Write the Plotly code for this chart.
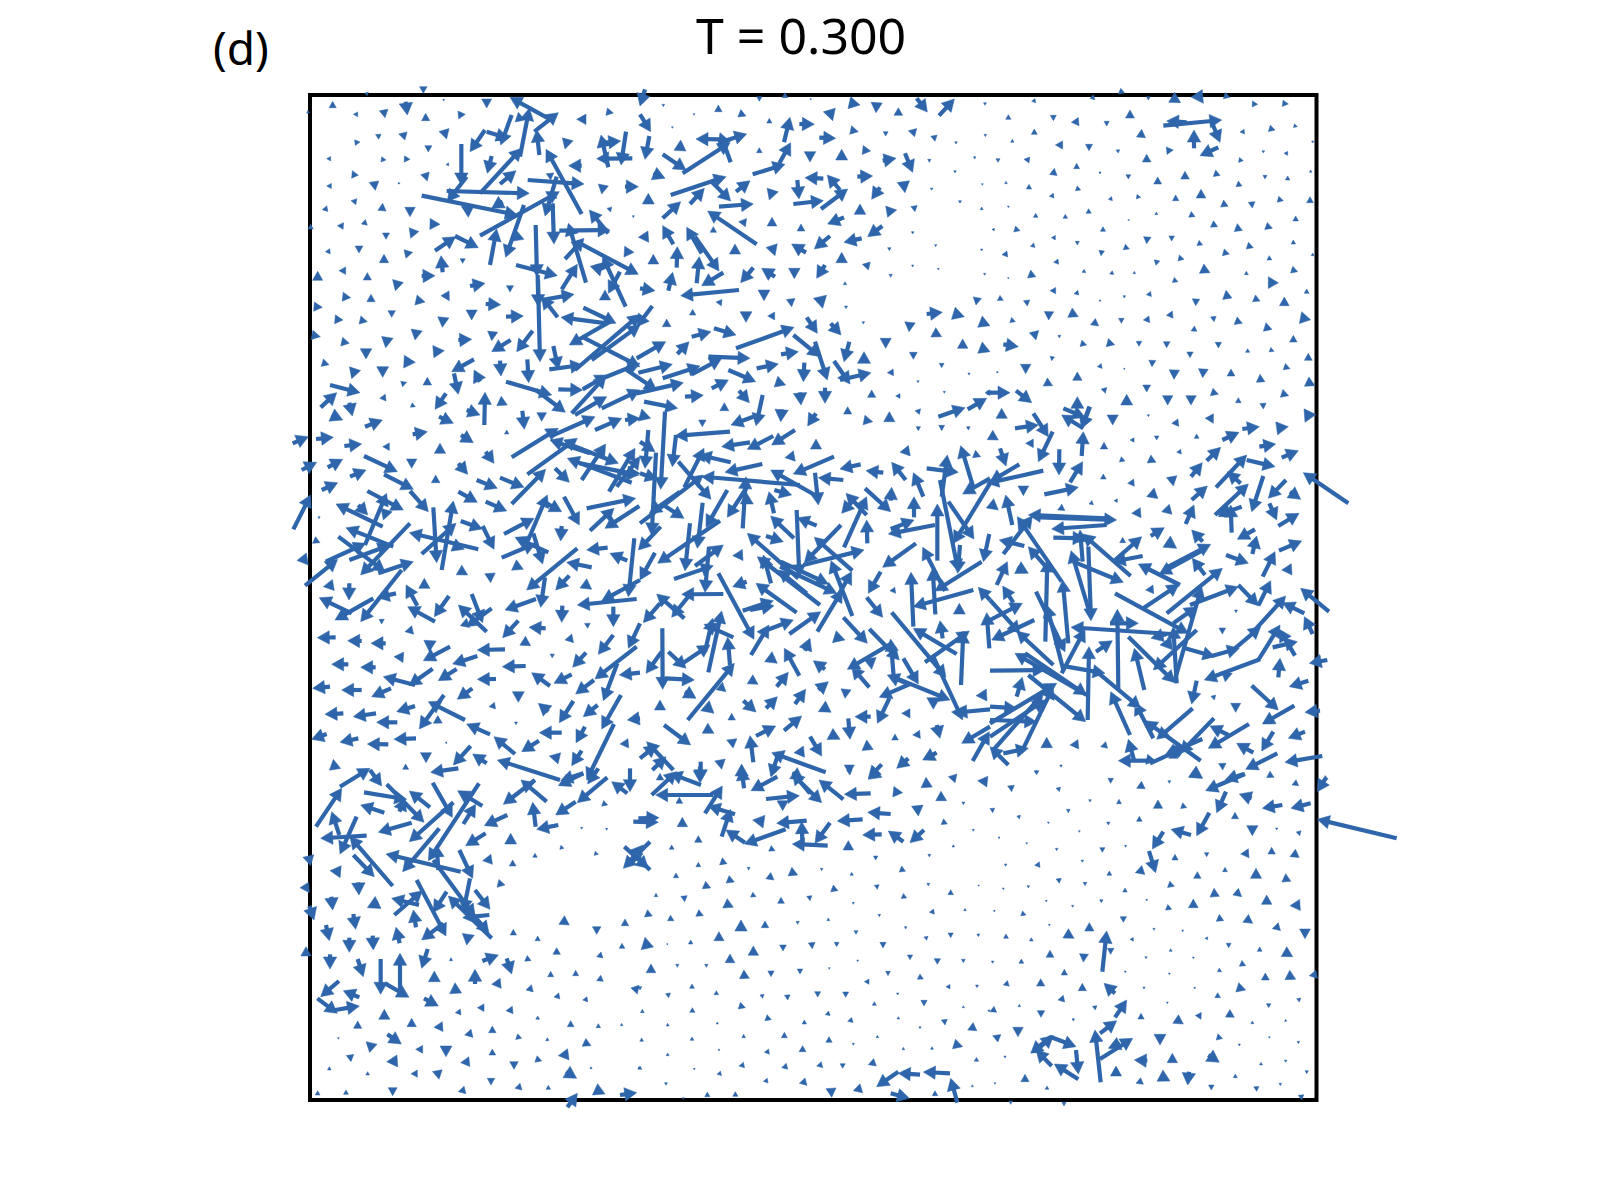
import numpy as np
import plotly.graph_objects as go

TITLE = "T = 0.300"
PANEL = "(d)"
top_left_origin = (290, 80)
top_left = [
(400,40,400,20),(128,64,128,83),(235,37,228,43),(50,100,56,95),(352,105,347,65),(190,103,203,103),(285,113,281,90),(407,100,407,122),(526,103,505,105),(461,63,461,58),(590,84,590,57),
(660,52,775,115),(718,85,690,230),(695,205,570,340),(740,150,748,225),(805,98,733,155),(632,195,665,105),(685,97,690,123),(540,215,585,150),(655,175,590,155),(860,118,888,118),(970,99,950,95),
(326,162,348,168),(266,178,265,163),(470,177,462,150),(210,186,195,188),(415,216,415,197),(110,236,122,236),(288,240,274,238),(360,238,343,237),(468,254,476,253),(187,272,195,290),(412,303,405,280),(110,318,124,318),(256,331,252,305),(330,311,325,309),(183,362,199,365),(97,389,112,386),(278,370,276,392),(360,410,360,382),(142,437,160,438),(214,432,229,427),(62,433,62,447),(450,433,420,432),(288,478,288,459),(362,475,372,449),(106,515,120,514),(207,519,207,498),(368,517,345,522),(282,523,282,548),(518,550,518,536),(147,572,167,572),(83,574,83,601),(232,578,232,600),(316,632,324,603),(182,653,158,650),(243,643,243,665),(660,636,660,617),(97,682,72,680),(405,666,378,660),(305,712,305,692),(159,720,135,718),(232,725,210,720),(91,770,66,765),(178,790,155,785),(375,780,380,750),(287,803,292,772),(228,837,228,806),(117,854,97,848),(463,812,430,815),(185,896,195,866),(376,847,342,845),(278,892,278,860),(350,907,335,912),(412,892,412,915),(269,955,287,953),(376,980,364,975),(158,1020,125,1005),(187,1008,178,968),
(210,938,120,915),(140,938,92,982),(277,1020,225,1040),(453,527,458,577),(435,587,395,588),(497,470,435,512),(565,503,495,468),(620,447,600,555),(514,315,514,192),(718,340,470,333),(472,365,530,290),(682,405,395,347),(808,335,570,467),(678,272,630,312),(592,280,605,228),(825,207,833,178),(836,257,875,257),(933,165,955,262),(992,183,945,188),(993,255,1008,155),(920,236,1027,235),(882,312,713,300),(768,208,875,402),(765,408,800,290),(782,300,780,280),(790,335,790,355),(792,492,788,370),(935,342,940,315),(1045,320,1005,320),(962,396,958,383),(1030,413,1030,407),(605,385,638,365),(535,412,533,378),(647,532,702,375),(702,478,675,468),
(741,590,737,435),(745,680,743,585),(750,845,744,600),(802,587,678,555),(862,553,815,628),(852,643,755,660),(755,650,803,712),(960,450,808,452),(898,390,955,460),(835,430,888,608),(1045,583,860,485),(882,475,825,537),(1032,517,1003,515),(938,530,1007,680),(955,640,990,575),(930,588,920,553),(945,630,945,660),(978,730,880,683),(813,712,950,730),(838,795,960,725),(1050,860,875,770),(1050,703,855,870),(1050,735,905,840),(878,855,778,868),(805,868,790,798),(605,815,662,780),(680,815,728,752),(605,782,608,755),(545,720,545,690),(700,708,648,710),(632,674,587,672),(478,662,465,640),(585,610,540,618),(457,742,460,712),(545,778,505,780),(485,875,552,838),(633,888,630,842),(716,908,712,838),(552,870,570,905),(505,943,492,880),(785,945,648,905),(826,997,738,930),(435,988,468,940),(585,937,583,1035),(652,975,627,963),(570,1005,530,990),(490,1030,447,1010),(703,1048,697,992),(755,1024,755,998),(878,930,805,928),(952,885,878,928),(948,887,845,1000),(950,950,855,1005),(1050,930,935,985),(915,1010,780,1070),(995,1015,915,1050),(1050,1015,1005,1020),(1050,850,925,900)]

top_middle_origin = (640, 80)
top_middle = [
(0,78,15,28),(32,155,0,103),(15,238,28,168),(138,270,68,223),(270,188,128,280),(240,158,272,247),(168,177,240,178),(320,162,235,188),(122,180,120,212),(235,75,235,95),(70,80,70,73),(162,106,162,101),(97,145,97,140),(318,108,298,100),(388,115,388,129),(358,64,358,50),(435,38,435,53),(512,60,512,56),(450,112,432,187),(523,133,478,132),(587,175,538,173),(578,122,568,90),(660,75,628,68),(708,98,710,68),(775,83,775,106),(862,96,830,55),(943,57,897,107),(1035,76,1035,68),(655,155,632,150),(737,168,737,155),(805,152,827,158),(885,184,882,167),(948,192,948,185),(1036,170,1036,163),(1004,237,1004,230),(358,203,358,218),(510,246,510,215),(605,208,605,240),(692,213,668,210),(768,235,728,242),(818,277,795,220),(868,247,868,238),(945,279,945,272),(1027,316,1027,311),(435,253,338,283),(452,188,418,250),(75,295,40,280),(258,290,92,345),(272,363,215,305),(25,340,25,372),(330,302,288,335),(193,325,150,372),(122,365,68,415),(340,372,237,380),(388,360,398,330),(203,393,350,493),(477,357,472,300),(495,293,550,296),(550,362,460,372),(562,285,600,330),(623,327,543,387),(698,288,652,290),(795,338,790,305),(695,358,720,322),(660,372,660,403),(770,390,740,395),(825,395,822,378),(875,331,875,324),(960,370,960,362),(1025,381,1025,389),
(396,412,396,438),(296,425,318,428),(483,432,483,453),(220,440,220,457),(563,432,612,412),(683,470,727,438),(523,507,570,468),(612,487,665,475),(-5,472,25,470),(68,437,100,493),(140,442,185,520),(237,573,165,470),(112,500,110,563),(40,523,40,552),(285,492,285,522),(405,527,395,497),(455,492,498,518),(605,517,605,548),(667,553,688,558),(748,512,748,503),(818,462,818,455),(887,500,887,494),(1025,513,1025,507),(178,530,170,610),(98,577,85,632),(185,617,250,578),(302,608,340,563),(365,565,405,590),(463,596,463,565),(530,595,555,555),(818,561,818,555),(895,570,895,565),(1034,586,1034,580),(752,592,752,583),(615,605,615,614),(45,632,0,625),(122,647,297,630),(372,662,372,630),(228,666,245,668),(455,680,452,657),(548,685,540,650),(-10,740,37,678),(158,688,158,705),(318,727,318,695),(383,708,404,708),(80,717,80,740),(532,760,500,712),(603,765,572,730),(618,686,618,678),(670,732,670,725),(1008,675,1012,653),(907,697,860,702),(973,710,940,700),(1050,737,1020,725),(807,755,810,727),(905,770,880,757),(737,805,737,775),(213,755,155,770),(288,765,222,745),(462,742,288,805),(77,785,-10,835),(147,785,112,822),(540,830,460,765),(562,900,525,785),(612,845,628,785),(968,777,968,805),(1050,815,1020,803),(820,838,820,817),(672,815,672,850),(330,835,205,830),(475,815,423,823),(97,853,-5,878),(180,858,68,895),(245,835,155,883),(415,852,350,865),(347,905,265,870),(490,905,493,848),(630,912,582,843),(693,878,600,900),(742,878,760,877),(905,863,905,850),(987,885,987,879),(834,908,834,902),(130,908,-10,940),(50,930,-40,870),(265,900,215,925),(190,946,135,950),(437,915,408,905),(555,970,555,923),(328,968,297,932),(483,975,480,937),(695,930,695,952),(767,948,780,948),(913,940,913,934),(1035,938,1050,938),(975,983,895,1010),(1040,955,983,988),(113,985,12,965),(253,968,253,992),(348,1037,368,945),(273,1035,340,1010),(422,1025,425,988),(503,1038,528,1000),(623,980,623,1002),(748,995,748,1025),(825,992,840,995),(698,1025,672,1020),(187,1040,187,1020),(32,1015,0,1005),(905,1052,905,1036),(835,1052,835,1040),(985,1050,985,1040)]

top_right_origin = (990, 80)
top_right = [
(125,64,136,62),(315,59,305,50),(385,42,398,32),(475,60,475,50),(572,68,545,52),(640,70,620,40),(720,52,703,47),(803,73,787,72),(895,72,878,70),(55,104,55,118),(190,122,190,106),(244,127,266,125),(350,138,350,124),(420,90,420,114),(695,120,520,137),(530,123,590,127),(690,187,668,133),(612,150,612,205),(630,227,685,202),(750,156,763,155),(855,150,838,145),(922,140,912,137),(133,147,133,163),(455,148,453,172),(67,178,67,187),(196,195,218,195),(297,212,297,193),(378,210,387,214),(550,210,530,212),(968,189,968,183),(24,247,24,236),(102,238,118,240),(470,223,470,246),(760,242,747,240),(820,219,820,212),(882,220,893,220),(193,265,190,285),(260,250,260,266),(330,282,330,276),(415,297,415,284),(503,291,503,312),(585,274,585,297),(677,270,680,288),(825,297,825,286),(893,288,893,300),(962,270,962,277),(48,304,48,311),(117,313,117,327),(272,330,259,325),(745,303,747,319),(178,349,191,347),(355,358,366,356),(452,352,440,350),(557,345,557,362),(633,328,633,354),(701,360,703,380),(787,384,785,366),(880,362,864,358),(960,350,960,368),(55,383,55,378),(137,400,137,412),(226,403,226,415),(296,386,296,400),(416,423,416,419),(499,396,499,404),(615,410,600,403),(917,408,917,423),(6,448,13,449),(90,452,74,447),(339,440,339,454),(683,440,666,432),(742,431,745,453),(847,445,828,438),(184,473,196,473),(470,491,472,471),(545,483,545,468),(121,499,133,496),(262,495,262,484),(638,495,624,489),(910,480,910,492),(36,524,52,522),(333,527,335,512),(418,507,403,501),(718,522,700,517),(790,503,772,497),(838,527,838,540),(968,519,968,527),(191,547,205,545),(498,556,501,541),(582,538,566,534),(55,597,55,593),(122,570,125,592),(276,577,285,573),(359,582,369,578),(433,574,433,581),(660,578,635,566),(775,584,766,579),(835,590,850,617),(923,575,905,569),(564,605,550,600),(180,632,197,632),(252,641,265,638),(403,654,403,647),(469,644,483,642),(950,627,950,640),(708,631,712,656),(40,661,26,654),(112,678,110,661),(330,665,330,660),(617,677,618,657),(810,663,792,655),(883,651,883,677),(176,720,177,695),(265,710,240,698),(326,738,309,725),(394,730,394,715),(460,720,478,718),(529,706,548,704),(672,725,670,710),(757,730,737,722),(828,728,833,751),(935,695,945,725),(76,725,62,720),(138,780,132,755),(85,800,40,793),(208,774,208,766),(290,795,273,790),(374,794,352,788),(447,799,447,784),(530,803,530,785),(685,804,685,787),(603,753,617,746),(910,766,910,786),(600,833,600,816),(773,806,773,817),(852,814,840,809),(955,820,955,841),(185,842,187,830),(107,881,107,853),(486,860,487,841),(322,860,335,858),(403,869,403,865),(552,898,553,870),(638,893,640,867),(723,867,723,888),(262,876,262,901),(810,883,812,906),(900,866,883,860),(22,873,22,878),(188,917,166,906),(470,936,470,915),(346,940,342,925),(975,917,950,905),(60,938,-10,938),(125,968,78,932),(35,985,35,1015),(533,975,533,947),(603,975,603,947),(685,943,665,936),(745,953,745,968),(820,987,819,970),(896,947,875,940),(410,943,410,975),(262,950,262,985),(368,1035,368,1005),(285,1012,220,985),(275,1045,298,980),(215,1005,280,1045),(475,1010,475,1004),(545,1030,565,1028),(670,1030,658,1008),(945,1027,960,995),(808,1040,757,1047),(895,1040,860,1045),(175,1070,130,1000),(145,1035,75,1045)]

middle_left_origin = (290, 430)
middle_left = [
(55,20,8,40),(130,22,78,27),(215,42,163,48),(278,50,298,50),(450,40,450,70),(412,5,368,13),(550,38,513,15),(650,0,650,12),(80,97,35,120),(158,88,113,112),(228,120,180,140),(143,158,95,180),(365,115,365,87),(322,125,222,78),(370,178,282,133),(415,245,360,183),(437,135,437,158),(612,100,587,65),(533,133,505,100),(622,175,560,150),(702,172,630,143),(562,217,505,185),(650,243,587,215),(838,157,795,115),(805,-5,665,82),(862,25,712,133),(767,118,665,222),(780,30,900,70),(985,100,830,40),(832,85,1025,158),(947,42,875,150),(1035,55,957,185),(1050,80,980,170),(1050,130,985,130),(1048,135,870,100),(868,285,822,200),(1037,205,890,235),(972,235,900,302),(945,295,1048,228),(732,265,642,312),(737,340,635,383),(772,195,708,345),(815,245,770,220),(758,402,730,310),(675,322,775,367),(812,333,815,288),(890,360,953,353),(960,370,1012,392),(830,397,905,412),(710,480,862,355),(797,480,838,437),(752,532,765,442),(700,418,672,405),(533,435,507,420),(602,458,600,430),(403,445,403,475),(100,470,130,465),(177,510,178,460),(262,503,318,490),(348,465,382,527),(433,560,477,498),(353,530,435,575),(88,503,185,550),(135,570,250,505),(212,575,335,420),(370,395,265,430),(143,388,45,467),(227,340,107,395),(300,345,178,390),(285,425,145,320),(168,293,310,350),(212,435,360,280),(138,222,278,290),(290,190,225,345),(340,240,232,183),(233,255,205,225),(280,270,290,240),(358,308,565,358),(440,398,430,232),(490,213,455,420),(498,280,395,372),(523,358,490,345),(90,338,72,330),(87,266,87,260),(55,405,35,380),(62,195,10,298),(577,297,512,273),(612,358,578,288),(505,525,590,605),(578,578,545,492),(530,590,605,535),(530,565,525,590),(645,540,738,507),(638,623,685,572),(717,592,767,595),(815,577,817,527),(893,595,892,580),(905,478,880,460),(862,525,1040,507),(935,513,1050,450),(1015,500,1033,325),(970,590,970,530),(1015,655,1050,580),(925,673,970,615),(915,747,1040,650),(940,812,982,700),(935,897,993,795),(890,1050,972,882),(857,792,912,750),(988,735,1050,728),(1012,870,1050,865),(848,712,888,668),(825,630,848,625),(780,672,790,678),(722,647,698,632),(562,660,645,658),(488,702,562,678),(637,710,707,708),(562,748,618,747),(725,728,780,768),(792,760,845,733),(502,808,547,775),(685,817,685,785),(445,752,500,717),(400,692,480,650),(418,665,420,632),(82,623,137,622),(173,632,215,633),(243,640,287,640),(345,605,368,600),(275,582,275,568),(312,680,340,682),(125,703,175,703),(212,712,257,712),(357,767,428,716),(280,740,375,765),(245,800,303,775),(68,775,120,770),(155,780,215,780),(320,845,375,828),(105,853,160,850),(190,860,258,850),(260,877,322,877),(388,897,462,795),(415,815,525,870),(430,880,450,868),(597,830,615,827),(745,820,775,845),(808,878,850,813),(880,860,923,825),(678,884,678,876),(530,882,600,913),(748,908,815,908),(858,938,885,890),(695,965,747,932),(612,920,675,972),(65,928,110,912),(150,937,205,925),(232,942,295,943),(312,928,378,925),(465,938,470,938),(490,1005,542,948),(845,1007,875,962),(990,942,1015,940),(408,998,408,968),(548,972,590,1000),(778,978,808,985),(130,988,135,1018),(347,1002,347,1018),(422,1027,505,1015),(622,990,810,1050),(812,1052,880,1030)]

middle_middle_origin = (640, 430)
middle_middle = [
(62,178,75,-55),(15,115,25,0),(45,65,0,35),(105,18,270,5),(97,110,108,15),(245,50,330,37),(322,58,400,18),(395,45,465,0),(528,27,528,57),(435,83,463,78),(780,67,808,62),(460,132,582,80),(600,117,662,103),(678,122,730,128),(755,97,797,150),(820,128,850,200),(955,127,860,115),(922,75,905,200),(962,47,1000,172),(1022,80,1002,72),(968,192,1050,145),(940,340,1050,160),(892,222,892,392),(955,425,900,150),(745,312,885,285),(822,270,752,297),(1002,327,925,215),(953,430,960,345),(1030,395,1048,312),(728,412,828,340),(848,352,915,483),(878,415,886,553),(885,483,1025,395),(820,530,1000,480),(813,427,820,590),(685,490,722,425),(728,562,680,502),(767,490,757,477),(958,520,958,552),(1015,472,1050,510),(1040,548,1048,655),(900,572,908,625),(918,742,755,547),(820,595,950,672),(988,603,855,697),(970,603,963,765),(778,690,688,597),(752,627,762,752),(622,718,755,640),(635,710,688,772),(695,718,690,685),(835,762,790,685),(742,735,800,760),(930,810,770,745),(718,802,810,762),(712,880,748,805),(968,870,880,680),(945,848,1050,838),(1008,797,1040,795),(880,838,880,803),(785,850,810,850),(900,925,890,885),(645,860,692,860),(765,912,765,930),(818,915,840,913),(965,940,1050,890),(1048,905,998,993),(848,990,890,968),(770,1015,805,985),(685,1045,725,1003),(628,1032,628,1005),(680,930,683,960),(630,928,625,865),(545,978,510,920),(600,928,570,912),(462,968,492,965),(615,805,618,778),(535,845,565,830),(565,755,535,780),(497,778,465,822),(445,727,410,770),(412,800,378,835),(348,846,310,812),(354,763,330,748),(258,785,238,768),(168,805,135,785),(60,810,60,840),(222,850,195,827),(275,850,275,870),(222,910,195,895),(260,930,285,940),(485,858,432,902),(407,888,348,918),(330,917,340,997),(152,945,72,885),(395,968,557,1027),(393,1040,415,970),(245,1018,240,990),(305,1002,305,1045),(182,1055,182,995),(490,1050,458,1028),(20,935,100,1020),(50,945,0,985),(78,980,37,1020),(60,1030,60,1050),(283,700,143,870),(245,543,205,727),(263,622,270,705),(218,565,195,665),(192,583,280,622),(68,778,67,595),(163,750,75,745),(18,730,65,665),(138,715,85,665),(210,645,125,702),(10,578,60,520),(50,492,133,565),(95,562,155,487),(125,493,250,492),(342,628,235,430),(195,487,207,350),(220,407,102,447),(250,345,165,408),(278,377,308,375),(278,470,320,455),(348,460,470,548),(400,512,308,542),(402,527,330,540),(387,585,333,675),(460,570,363,607),(542,545,448,612),(607,480,532,605),(682,640,610,562),(412,700,385,680),(433,655,478,737),(510,625,495,662),(615,630,583,620),(520,692,555,718),(322,310,475,445),(478,440,470,240),(370,375,393,460),(352,380,540,525),(565,462,422,395),(590,490,420,410),(415,420,500,490),(493,398,603,285),(672,360,490,405),(523,322,637,422),(573,392,637,558),(635,425,590,505),(680,200,612,352),(618,190,680,255),(605,250,640,210),(752,245,675,175),(680,270,682,340),(755,172,752,212),(822,200,822,262),(535,225,525,128),(392,120,530,198),(535,143,610,150),(185,140,480,165),(455,195,403,180),(262,262,325,165),(318,140,308,295),(340,222,310,205),(387,185,402,250),(392,258,462,325),(472,263,530,287),(430,335,378,318),(213,208,115,95),(192,55,133,172),(178,75,272,97),(255,127,367,102),(190,135,0,280),(28,250,120,185),(132,265,70,225),(198,292,262,180),(172,355,188,218),(135,422,150,280),(53,400,240,272),(35,315,48,68),(-5,360,62,290),(0,450,45,368),(52,147,0,130)]

middle_right_origin = (990, 430)
middle_right = [
(25,30,0,15),(107,40,130,40),(145,95,188,5),(48,108,30,55),(207,135,208,58),(275,-5,300,-70),(280,5,275,78),(342,37,342,57),(420,30,432,30),(500,30,500,18),(620,12,620,25),(560,67,573,65),(747,7,697,30),(692,52,650,92),(857,42,808,50),(925,62,875,83),(405,93,391,88),(498,97,477,87),(637,98,603,140),(0,155,88,103),(-10,160,160,122),(278,95,240,157),(265,172,163,193),(100,197,100,168),(340,132,340,147),(413,160,432,158),(550,168,545,140),(770,75,678,172),(855,110,770,90),(712,125,752,160),(785,245,820,138),(835,205,888,150),(940,128,1075,220),(932,208,900,185),(652,168,605,210),(470,200,498,190),(372,212,382,212),(297,222,308,218),(203,240,220,232),(47,195,67,285),(25,240,0,220),(425,250,452,248),(515,245,542,238),(612,225,587,282),(860,270,838,220),(927,250,865,288),(775,162,675,255),(685,255,755,230),(722,225,725,308),(700,233,700,260),(380,270,150,262),(115,255,350,265),(185,297,350,285),(285,325,190,323),(270,300,278,395),(303,572,295,350),(243,362,298,545),(400,457,250,395),(278,312,422,438),(455,320,370,395),(370,395,458,378),(398,322,398,338),(560,355,530,335),(523,293,482,318),(605,300,638,335),(742,328,795,298),(800,318,787,372),(935,333,867,362),(775,400,708,375),(855,365,818,440),(875,420,905,418),(662,343,525,415),(508,432,640,360),(445,402,570,465),(607,385,645,435),(697,415,530,550),(567,463,460,535),(467,480,490,478),(595,610,375,490),(52,395,20,465),(115,430,82,412),(38,468,70,518),(82,260,215,455),(218,450,235,640),(127,258,40,372),(28,330,103,348),(115,350,172,415),(172,390,166,635),(225,665,138,485),(170,525,220,720),(243,592,545,612),(285,598,215,730),(445,580,360,580),(382,538,385,778),(297,650,293,870),(367,632,318,665),(555,758,415,620),(433,655,463,780),(490,720,620,600),(550,590,560,760),(483,625,530,612),(510,645,545,640),(635,470,553,755),(620,530,550,580),(675,680,585,655),(748,655,665,678),(812,590,735,655),(887,498,790,605),(745,470,600,525),(805,527,745,465),(842,452,805,527),(878,518,943,550),(932,475,1017,545),(943,560,968,612),(697,612,697,594),(738,548,738,540),(870,585,805,690),(868,598,915,677),(922,635,848,652),(643,750,810,688),(870,685,865,742),(958,700,1012,690),(727,730,700,740),(898,770,955,752),(605,822,620,752),(673,810,670,797),(865,840,785,767),(737,847,737,820),(817,882,913,827),(945,847,990,842),(500,928,608,835),(570,970,672,865),(655,955,777,882),(660,888,715,915),(815,963,850,905),(895,925,945,905),(740,940,790,968),(767,1018,862,970),(885,997,997,978),(698,1020,697,1000),(635,1045,607,1025),(705,1050,762,1032),(1000,1050,1010,1042),(525,975,637,927),(465,872,632,992),(435,818,490,925),(362,785,420,915),(452,835,320,725),(345,730,230,710),(165,720,0,722),(75,670,290,795),(80,603,190,705),(287,875,115,735),(290,795,105,670),(97,520,0,570),(5,630,133,570),(90,610,0,510),(97,742,80,800),(190,770,100,955),(160,790,10,960),(200,760,0,880),(165,810,0,920),(80,835,0,830),(140,875,0,870),(0,950,55,1005),(115,955,40,970),(170,922,170,953),(240,945,265,943),(332,950,350,945),(213,1012,213,1005),(137,1030,137,1023),(385,992,490,992),(590,950,480,1000),(415,928,432,990),(497,993,470,988),(550,960,550,985)]

bottom_left_origin = (290, 770)
bottom_left = [
(155,55,78,170),(240,-5,150,50),(275,48,240,0),(350,88,222,67),(402,157,290,43),(358,63,420,112),(345,85,328,125),(212,105,283,128),(125,125,148,195),(150,252,200,140),(92,205,230,197),(180,200,308,348),(253,320,190,255),(265,187,365,158),(487,142,428,38),(358,215,490,97),(415,272,567,40),(503,62,577,108),(557,103,520,162),(338,305,448,175),(583,167,652,135),(527,227,587,190),(662,190,662,222),(693,30,770,95),(640,103,735,30),(797,135,857,95),(862,98,952,22),(805,47,880,10),(893,42,925,-5),(965,35,1012,70),(953,105,938,100),(728,97,737,170),(740,178,805,165),(1020,65,1020,-5),(875,178,875,172),(950,181,950,175),(822,235,811,232),(735,250,735,262),(925,253,914,250),(62,287,55,258),(120,302,152,305),(578,272,605,268),(668,270,668,288),(288,252,512,305),(548,325,508,240),(555,440,430,270),(440,225,445,300),(520,425,540,325),(600,418,555,360),(475,378,605,505),(518,443,598,435),(597,490,520,400),(468,498,380,330),(430,427,470,365),(397,362,313,435),(305,385,387,405),(370,420,378,472),(395,510,460,460),(318,472,329,520),(645,345,624,340),(207,375,205,337),(58,368,43,345),(128,420,124,380),(232,413,265,397),(72,450,58,408),(197,478,190,432),(118,512,108,465),(178,547,178,503),(250,540,248,497),(530,525,535,493),(670,478,670,495),(743,498,743,512),(838,465,815,450),(920,493,920,470),(1005,447,1005,467),(120,597,120,553),(220,620,203,567),(272,673,272,567),(357,682,285,640),(330,550,330,665),(395,595,413,537),(48,530,48,558),(483,563,483,572),(625,555,577,573),(665,612,650,565),(723,572,708,565),(800,533,800,553),(996,520,996,535),(920,560,936,555),(433,603,433,635),(555,598,555,642),(495,638,497,670),(605,643,632,640),(782,604,782,620),(857,601,857,617),(920,632,936,625),(92,680,147,633),(160,662,208,682),(142,730,82,685),(208,708,135,720),(445,708,402,685),(283,718,283,748),(496,728,512,726),(562,713,582,713),(648,722,668,720),(708,660,727,655),(792,681,808,678),(878,690,892,688),(1042,672,1035,650),(203,753,203,775),(365,745,365,770),(432,772,458,770),(607,768,607,788),(524,795,546,790),(743,738,743,748),(842,752,842,770),(925,761,925,773),(995,760,995,767),(334,822,292,793),(228,815,250,835),(145,808,145,803),(695,805,680,800),(772,803,772,812),(377,838,398,838),(468,860,468,828),(607,837,607,855),(903,827,882,817),(805,857,835,853),(183,875,180,855),(290,875,322,873),(512,878,538,875),(672,898,672,875),(755,873,738,867),(118,890,118,900),(233,905,233,915),(363,911,382,911),(447,928,442,902),(860,925,828,905),(603,945,603,925),(675,955,693,950),(775,946,775,958),(83,962,83,975),(168,960,168,973),(308,977,308,953),(505,965,525,960),(862,970,832,1012),(945,972,915,958),(1040,968,990,975),(1047,890,1047,896),(903,890,903,896),(1000,295,1080,215),(1075,295,1003,230),(1020,240,1080,300),(1060,225,1010,285)]

bottom_middle_origin = (640, 770)
bottom_middle = [
(57,143,-5,145),(55,157,-20,155),(110,5,35,75),(90,10,183,45),(180,38,180,-10),(305,-5,312,55),(47,75,220,75),(247,48,195,130),(118,82,118,100),(205,108,285,133),(272,118,245,200),(258,180,315,218),(313,222,437,178),(410,160,500,152),(485,155,487,215),(457,222,563,227),(525,220,570,158),(592,153,668,148),(683,127,752,132),(668,195,725,193),(745,183,790,215),(810,218,852,180),(613,73,692,70),(537,30,610,88),(457,7,510,70),(545,98,475,30),(478,77,378,87),(428,122,428,92),(333,62,412,20),(685,28,715,5),(630,15,628,0),(392,18,400,0),(788,68,760,65),(858,22,860,52),(925,20,948,25),(1013,32,1042,35),(920,92,895,78),(835,138,832,107),(970,104,970,96),(127,142,127,170),(338,150,372,155),(922,162,907,155),(1000,184,1000,178),(940,224,940,231),(175,197,175,217),(95,225,95,238),(405,242,390,235),(625,212,625,240),(707,270,707,258),(868,261,868,253),(175,277,175,290),(247,263,250,283),(326,300,326,292),(473,315,450,305),(108,309,108,323),(402,330,385,317),(545,302,545,295),(635,307,635,316),(785,288,787,305),(212,354,192,345),(283,336,263,328),(48,370,48,380),(134,395,132,378),(348,380,335,374),(423,382,423,400),(510,392,508,378),(594,362,576,355),(712,358,710,345),(865,348,865,340),(932,359,932,374),(1016,349,1016,345),(800,384,787,378),(280,412,255,400),(190,437,172,429),(37,438,18,430),(102,452,87,444),(640,403,640,397),(718,440,718,433),(868,427,882,425),(975,415,975,422),(303,450,303,483),(375,453,375,473),(473,463,473,454),(565,444,565,452),(797,477,797,470),(237,485,237,512),(15,502,22,535),(152,510,152,522),(82,525,82,521),(429,543,429,525),(517,536,515,518),(590,530,590,517),(648,493,648,482),(729,534,729,517),(860,511,858,500),(932,503,932,489),(1015,500,1015,492),(340,528,340,556),(270,552,270,578),(33,582,33,608),(810,569,810,555),(892,583,892,566),(970,578,970,568),(112,592,112,583),(199,592,199,583),(393,620,393,603),(480,612,480,597),(653,575,653,570),(568,598,568,593),(328,625,305,613),(744,617,744,604),(673,635,687,635),(850,627,836,620),(0,660,0,650),(86,683,84,670),(156,642,156,655),(229,662,229,674),(368,685,366,674),(443,690,442,675),(533,681,533,665),(617,682,617,666),(918,650,930,650),(1011,653,1011,645),(773,675,773,669),(852,708,852,691),(703,695,703,706),(316,713,298,707),(157,713,157,727),(7,718,7,728),(394,749,378,743),(493,750,493,762),(556,734,568,730),(623,754,637,750),(915,765,913,749),(983,780,1005,770),(83,760,83,768),(232,756,232,762),(775,740,775,747),(840,776,840,770),(970,707,970,713),(1047,726,1047,720),(433,787,433,803),(311,793,311,803),(156,801,156,811),(5,804,5,814),(712,796,712,803),(567,800,567,817),(640,826,640,820),(477,845,493,836),(373,847,387,845),(968,830,942,822),(790,832,790,839),(876,830,876,838),(83,849,83,857),(237,843,237,838),(297,888,312,885),(425,893,441,889),(530,888,546,884),(608,895,608,881),(685,884,705,877),(1016,874,1006,868),(0,888,0,898),(163,900,163,895),(231,913,243,910),(370,934,383,932),(478,940,498,935),(78,946,78,938),(997,944,997,950),(710,950,775,905),(775,910,840,914),(850,906,930,910),(932,925,952,998),(575,982,573,955),(640,962,664,955),(808,985,752,970),(885,962,885,977),(202,966,202,980),(286,965,286,979),(130,988,130,983)]

bottom_right_origin = (990, 770)
bottom_right = [
(140,14,140,2),(638,25,607,5),(647,62,765,12),(852,22,835,13),(906,45,922,38),(982,65,1007,25),(362,40,362,25),(538,40,538,32),(65,65,63,47),(208,65,205,53),(440,55,460,45),(680,128,708,65),(748,72,785,85),(300,96,300,89),(387,88,387,101),(504,90,504,115),(590,113,575,107),(817,115,877,105),(903,115,962,100),(8,128,7,115),(235,128,235,118),(735,127,735,146),(88,147,86,137),(175,161,175,156),(448,139,448,154),(355,165,355,156),(268,187,268,182),(620,197,658,128),(543,178,603,195),(487,237,520,185),(787,197,787,167),(860,180,860,174),(929,197,926,184),(497,308,477,243),(982,148,1220,205),(337,247,337,233),(407,232,407,226),(200,242,200,235),(110,223,110,218),(27,206,27,201),(555,253,555,270),(650,260,650,248),(752,252,776,250),(845,232,845,252),(900,260,922,250),(277,277,277,270),(134,286,149,284),(47,289,47,282),(436,308,460,300),(705,292,705,305),(622,305,622,325),(798,295,798,325),(887,311,889,335),(208,340,206,326),(285,347,285,337),(358,303,358,316),(115,354,115,347),(40,359,40,354),(405,354,405,366),(553,349,536,343),(672,355,674,380),(755,380,737,365),(830,375,830,403),(900,407,930,405),(470,393,470,388),(248,412,248,406),(334,398,334,389),(169,396,169,391),(610,387,610,413),(545,418,530,412),(108,435,95,430),(13,426,13,421),(688,433,690,453),(788,460,767,445),(400,457,400,440),(298,458,298,483),(847,476,868,470),(945,506,945,477),(492,481,492,475),(178,468,178,463),(578,485,578,480),(252,505,227,490),(48,492,48,505),(124,503,124,513),(420,508,430,508),(645,505,653,505),(350,483,337,605),(362,553,362,535),(716,533,716,520),(809,531,809,544),(542,536,542,544),(468,566,468,560),(610,566,610,561),(180,541,180,562),(280,576,282,552),(908,560,882,545),(8,580,8,573),(94,567,94,580),(767,587,752,580),(223,598,223,615),(695,605,685,600),(826,609,826,630),(958,617,980,613),(917,628,892,615),(40,645,55,640),(152,626,152,648),(277,640,277,662),(342,640,375,670),(462,657,462,651),(614,657,614,652),(406,608,406,603),(538,614,538,609),(767,660,742,652),(683,668,683,683),(204,690,222,686),(928,696,926,685),(836,713,836,701),(532,701,532,696),(88,703,88,710),(316,720,314,708),(0,725,16,718),(153,742,153,722),(250,753,250,746),(410,690,375,742),(453,730,453,747),(633,748,625,732),(733,742,713,730),(787,753,787,761),(887,748,887,754),(380,752,330,790),(580,762,557,747),(8,797,28,805),(84,800,84,772),(510,825,510,793),(684,791,688,808),(838,805,838,800),(925,821,925,814),(748,828,748,822),(315,780,332,937),(428,805,330,867),(355,835,390,820),(122,850,183,800),(258,830,180,800),(265,912,258,840),(193,882,265,928),(138,840,185,888),(190,797,135,845),(45,864,45,858),(433,870,472,872),(547,850,547,878),(688,877,655,855),(378,888,378,918),(105,913,105,935),(438,940,456,933),(540,933,510,917),(593,945,597,905),(736,912,736,923),(813,877,813,885),(887,877,887,870),(950,911,950,902),(664,960,664,945),(800,964,799,950),(871,947,871,940),(171,948,171,958),(15,943,15,938),(935,990,933,975),(62,1003,62,993),(222,1008,222,997)]

groups = [
    (top_left_origin, top_left), (top_middle_origin, top_middle), (top_right_origin, top_right),
    (middle_left_origin, middle_left), (middle_middle_origin, middle_middle), (middle_right_origin, middle_right),
    (bottom_left_origin, bottom_left), (bottom_middle_origin, bottom_middle), (bottom_right_origin, bottom_right),
]

# frame of the box, in picture pixels; one data unit is one pixel, with 0,0 at its lower left
BOX_L, BOX_T, BOX_R, BOX_B = 310, 95, 1316.5, 1100
W, H = 1600, 1200

tip_x, tip_y, tail_x, tail_y = [], [], [], []
for (ox, oy), rows in groups:
    a = np.array(rows, dtype=float)
    tip_x.extend(ox + a[:, 0] / 3 - BOX_L)
    tip_y.extend(BOX_B - (oy + a[:, 1] / 3))
    tail_x.extend(ox + a[:, 2] / 3 - BOX_L)
    tail_y.extend(BOX_B - (oy + a[:, 3] / 3))
tip_x, tip_y, tail_x, tail_y = map(np.array, (tip_x, tip_y, tail_x, tail_y))

u, v = tip_x - tail_x, tip_y - tail_y
length = np.hypot(u, v)
length[length == 0] = 1
ux, uy = u / length, v / length
head = np.minimum(length, 12)
half = head * 0.56

sx, sy, hx, hy = [], [], [], []
for i in range(len(tip_x)):
    bx, by = tip_x[i] - ux[i] * head[i], tip_y[i] - uy[i] * head[i]
    if length[i] > head[i]:
        sx += [tail_x[i], bx + ux[i] * 2, None]
        sy += [tail_y[i], by + uy[i] * 2, None]
    hx += [tip_x[i], bx - uy[i] * half[i], bx + uy[i] * half[i], tip_x[i], None]
    hy += [tip_y[i], by + ux[i] * half[i], by - ux[i] * half[i], tip_y[i], None]

COLOR = "#2f66ab"
fig = go.Figure()
fig.add_trace(go.Scatter(x=sx, y=sy, mode="lines", line=dict(color=COLOR, width=4.2), hoverinfo="skip", showlegend=False))
fig.add_trace(go.Scatter(x=hx, y=hy, mode="lines", fill="toself", fillcolor=COLOR, line=dict(color=COLOR, width=0.5), hoverinfo="skip", showlegend=False))

hidden = dict(visible=False, showgrid=False, zeroline=False)
fig.update_layout(
    width=W, height=H, paper_bgcolor="white", plot_bgcolor="white",
    margin=dict(l=0, r=0, t=0, b=0, pad=0),
    xaxis=dict(range=[-BOX_L, W - BOX_L], **hidden),
    yaxis=dict(range=[BOX_B - H, BOX_B], **hidden),
    font=dict(family="Noto Sans", color="black"),
    shapes=[dict(type="rect", xref="x", yref="y", x0=0, y0=0, x1=BOX_R - BOX_L, y1=BOX_B - BOX_T, layer="below", line=dict(color="black", width=4))],
    annotations=[
        dict(text=TITLE, xref="x", yref="y", x=801 - BOX_L, y=BOX_B - 35, xanchor="center", yanchor="middle", showarrow=False, font=dict(size=50, family="Noto Sans")),
        dict(text=PANEL, xref="x", yref="y", x=241 - BOX_L, y=BOX_B - 47, xanchor="center", yanchor="middle", showarrow=False, font=dict(size=46, family="Noto Sans")),
    ],
)
fig.write_html("out.html", config=dict(displayModeBar=False), post_script="document.body.style.margin='0';")
